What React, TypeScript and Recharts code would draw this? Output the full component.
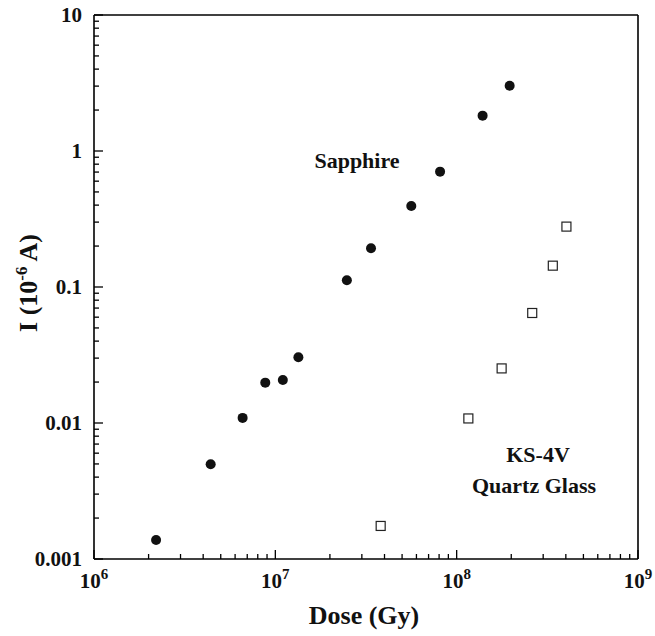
import { ScatterChart, Scatter, XAxis, YAxis, ReferenceLine } from 'recharts'

// dose in Gy, current in 1e-6 A
const sapphireDose = [2.2e6, 4.4e6, 6.6e6, 8.8e6, 1.1e7, 1.34e7, 2.48e7, 3.37e7, 5.62e7, 8.1e7, 1.39e8, 1.96e8]
const sapphireCurrent = [0.00138, 0.00497, 0.0109, 0.0198, 0.0207, 0.0304, 0.112, 0.193, 0.394, 0.705, 1.82, 3.02]

const quartzDose = [3.81e7, 1.16e8, 1.77e8, 2.61e8, 3.39e8, 4.03e8]
const quartzCurrent = [0.00175, 0.0108, 0.0252, 0.0644, 0.1435, 0.278]

const xMajor = [1e6, 1e7, 1e8, 1e9]
const xMajorExp = ['6', '7', '8', '9']
const yMajor = [0.001, 0.01, 0.1, 1, 10]
const yMajorLabels = ['0.001', '0.01', '0.1', '1', '10']
const mantissas = [2, 3, 4, 5, 6, 7, 8, 9]

const W = 655
const H = 636
const FONT = '"Liberation Serif", "Times New Roman", serif'

const withMinors = (majors: number[]) => {
  const out: number[] = []
  majors.forEach((m, i) => {
    out.push(m)
    if (i < majors.length - 1) mantissas.forEach((k) => out.push(+(k * m).toPrecision(6)))
  })
  return out
}

const xTicks = withMinors(xMajor)
const yTicks = withMinors(yMajor)

const sapphire = sapphireDose.map((d, i) => ({ dose: d, current: sapphireCurrent[i] }))
const quartz = quartzDose.map((d, i) => ({ dose: d, current: quartzCurrent[i] }))

const isMajor = (list: number[], v: number) => list.some((m) => Math.abs(m - v) / m < 1e-6)

function XTick(props: any) {
  const { x, y, payload } = props
  const idx = xMajor.findIndex((m) => Math.abs(m - payload.value) / m < 1e-6)
  const major = idx >= 0
  return (
    <g>
      <line x1={x} x2={x} y1={y} y2={y - (major ? 9 : 5)} stroke="#000" strokeWidth={1.3} />
      {major && (
        <text x={x} y={y + 29} textAnchor="middle" fontFamily={FONT} fontWeight="bold" fontSize={21} fill="#111">
          <tspan>10</tspan>
          <tspan dy={-9} fontSize={15}>{xMajorExp[idx]}</tspan>
        </text>
      )}
    </g>
  )
}

function YTick(props: any) {
  const { x, y, payload } = props
  const idx = yMajor.findIndex((m) => Math.abs(m - payload.value) / m < 1e-6)
  const major = idx >= 0
  return (
    <g>
      <line x1={x} x2={x + (major ? 9 : 5)} y1={y} y2={y} stroke="#000" strokeWidth={1.3} />
      {major && (
        <text x={x - 12} y={y + 7} textAnchor="end" fontFamily={FONT} fontWeight="bold" fontSize={21} fill="#111">
          {yMajorLabels[idx]}
        </text>
      )}
    </g>
  )
}

const Dot = (p: any) => <circle cx={p.cx} cy={p.cy} r={5} fill="#111" />
const Square = (p: any) => (
  <rect x={p.cx - 4.5} y={p.cy - 4.5} width={9} height={9} fill="#fff" stroke="#222" strokeWidth={1.2} />
)

export default function App() {
  return (
    <div style={{ position: 'absolute', left: 0, top: 0, width: W, height: H, background: '#fff' }}>
      <ScatterChart width={W} height={H} margin={{ top: 15, right: 17, bottom: 0, left: 0 }}>
        <XAxis
          dataKey="dose"
          type="number"
          scale="log"
          domain={[1e6, 1e9]}
          allowDataOverflow
          ticks={xTicks}
          interval={0}
          tick={<XTick />}
          tickLine={false}
          tickSize={0}
          tickMargin={0}
          height={77}
          axisLine={{ stroke: '#000', strokeWidth: 1.6 }}
        />
        <YAxis
          dataKey="current"
          type="number"
          scale="log"
          domain={[0.001, 10]}
          allowDataOverflow
          ticks={yTicks}
          interval={0}
          tick={<YTick />}
          tickLine={false}
          tickSize={0}
          tickMargin={0}
          width={94}
          axisLine={{ stroke: '#000', strokeWidth: 1.6 }}
        />
        <ReferenceLine y={10} stroke="#000" strokeWidth={1.6} />
        <ReferenceLine x={1e9} stroke="#000" strokeWidth={1.6} />
        <Scatter data={sapphire} shape={Dot} isAnimationActive={false} />
        <Scatter data={quartz} shape={Square} isAnimationActive={false} />
      </ScatterChart>
      <svg
        width={W}
        height={H}
        style={{ position: 'absolute', left: 0, top: 0, pointerEvents: 'none' }}
        fontFamily={FONT}
        fontWeight="bold"
        fill="#111"
      >
        <text x={357} y={168} textAnchor="middle" fontSize={22}>Sapphire</text>
        <text x={538} y={462} textAnchor="middle" fontSize={22}>KS-4V</text>
        <text x={534} y={493} textAnchor="middle" fontSize={22}>Quartz Glass</text>
        <text x={364} y={624} textAnchor="middle" fontSize={26}>Dose (Gy)</text>
        <text x={37} y={283} textAnchor="middle" fontSize={26} transform="rotate(-90 37 283)">
          <tspan>I (10</tspan>
          <tspan dy={-10} fontSize={17}>-6</tspan>
          <tspan dy={10}> A)</tspan>
        </text>
      </svg>
    </div>
  )
}
